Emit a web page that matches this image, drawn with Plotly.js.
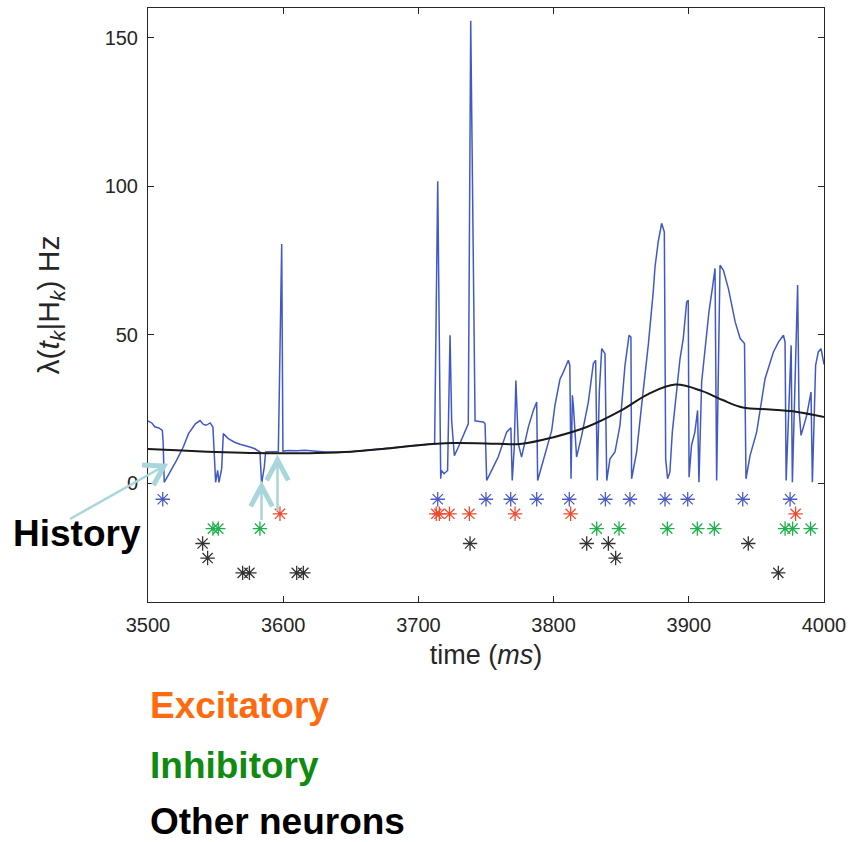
<!DOCTYPE html>
<html>
<head>
<meta charset="utf-8">
<script src="https://cdn.plot.ly/plotly-3.0.1.min.js"></script>
<style>html,body{margin:0;padding:0;background:#fff;}#chart{width:852px;height:842px;}</style>
</head>
<body>
<div id="chart"></div>
<script>
// ---- Conditional intensity lambda(t_k|H_k) (blue) ----
var intensityTime = [3500,3503,3505,3508,3510.6,3511.2,3512,3515,3521,3526,3530,3535,3538.5,3541,3543,3546,3548,3549,3550,3551.5,3552.5,3554.5,3555.7,3559.4,3564,3568,3571.7,3576,3579,3582.8,3584,3586,3587,3592,3596.4,3598.9,3599.8,3604,3610,3616,3621,3626,3631,
  3650,3675,3700,3712,
  3714.3,3716,3716.5,3717,3719,3721.6,3723.4,3724.6,3726.6,3729.5,3733,3736.9,3738.7,3741.9,3745,3748,3749.3,3750.5,3753,3759,3765.3,3768.4,3769.4,3770.9,3772.1,3773.9,3776.3,3781.3,3785,3787.5,3788.2,3792.4,3798.6,3801,3804.7,3807.2,3809.7,3810.9,3812,3812.9,3813.9,3814.6,3817,3820.8,3825.7,3829.4,3831.1,3832.3,3833.8,3835.6,3838,3839.3,3841.7,3845.4,3849.1,3852.8,3855.8,3857.2,3857.7,3861.4,3865.1,3870,3873.7,3875,3877.4,3879.9,3881.9,3882.9,3884.3,3886,3887.8,3893.5,3895.9,3898.4,3899.6,3900.2,3902,3904.5,3906.5,3907.5,3909.5,3911.9,3914.9,3917.4,3919.4,3920.6,3923.1,3925.6,3929.3,3934.3,3938,3941.2,3942.3,3945.3,3950.2,3956.4,3962.6,3966.3,3970,3971.2,3972,3975.7,3976.6,3980.5,3981.5,3983,3987.2,3990.4,3991.4,3993.8,3995.8,3997.8,3999.5,4000];
var intensityValue = [21,20.2,19,18.6,17.8,14,0.3,2.6,7.6,12.1,16.7,20,21.1,19.8,19.5,20.3,18.9,10,0.3,4.3,0.3,4.9,16.7,15,13.8,13.1,12.7,12.1,11.6,10.5,-0.2,5.4,10.5,10.6,10.7,80.5,10.8,11,10.9,11.1,10.9,10.8,10.5,
  10.6,11.6,12.8,13.3,
  101.7,17.8,1.5,4.3,3.2,4.3,49.8,21,9.3,12.1,16,20,155.7,21,20.8,20.6,20,0.9,3.2,8.8,17.2,18.7,0.9,12.1,34.6,13.3,8.8,18.9,24.5,27.3,0.9,7.7,17.8,26.2,35,37.4,40.3,41.4,39.7,1.5,29.6,26.2,8.8,16.1,27.3,40.3,41.4,0.9,30.7,45.3,43.6,0.9,8.2,10.5,19.5,39.7,49.8,49.2,1.5,10.5,26.2,46.4,64.4,72.8,81.3,87.5,84.6,8.2,1.5,3.7,17.2,41.9,48.7,61,61.6,2,12.7,17.2,24.5,0.3,34,45.3,57.7,65.5,72.3,0.9,73.4,71.7,65.5,54.3,48.7,47,1.5,9.3,17.2,35.2,44.2,47.5,49.8,47.5,0.9,46.4,0.3,66.7,25.1,16.1,22.8,30.7,0.3,39.7,44.2,45.3,41.4,40];

// ---- Baseline (smooth, black) ----
var baselineTime  = [3500,3525,3550,3575,3600,3625,3650,3675,3700,3725,3750,3775,3800,3825,3850,3870,3890,3910,3925,3940,3960,3980,4000];
var baselineValue = [11.5,11,10.5,10.2,10.1,10.2,10.6,11.6,12.8,13.5,13.4,13.2,15.5,19,24.5,30,33.2,31,28,25.5,24.8,24,22.3];

// ---- Spike rasters ----
var neuronSpikes      = [3510.9,3714.3,3750,3768.3,3787.5,3811.6,3838.3,3856.5,3882.4,3899.2,3939.9,3974.9];
var excitatorySpikes  = [3597.6,3713.2,3715.5,3723,3737.7,3771.5,3812.6,3979];
var inhibitorySpikes  = [3548,3552,3582.8,3831.9,3848.4,3884.1,3906.3,3918.9,3971.2,3976.8,3990.1];
var otherSpikesA      = [3540.4,3738.2,3824.5,3840.5,3944];
var otherSpikesB      = [3544.1,3845.9];
var otherSpikesC      = [3570,3575,3610,3614.9,3966.2];
var rowLevels = {neuron:-5.4, exc:-10.3, inh:-15.3, oA:-20.3, oB:-25.2, oC:-30.2};

var xTicks = [3500,3600,3700,3800,3900,4000];
var yTicks = [0,50,100,150];

function row(xs, level){ return xs.map(function(){ return level; }); }
function stars(xs, level, color){
  return {x:xs, y:row(xs, level), type:'scatter', mode:'markers', hoverinfo:'skip',
    marker:{symbol:'asterisk-open', size:12, line:{color:color, width:1.3}, color:color}};
}

var traces = [
  {x:intensityTime, y:intensityValue, type:'scatter', mode:'lines', line:{color:'#4159c4', width:1.5}, hoverinfo:'skip'},
  {x:baselineTime, y:baselineValue, type:'scatter', mode:'lines', line:{color:'#1a1a1a', width:2, shape:'spline'}, hoverinfo:'skip'},
  stars(neuronSpikes, rowLevels.neuron, '#4a5cc0'),
  stars(excitatorySpikes, rowLevels.exc, '#f04a2e'),
  stars(inhibitorySpikes, rowLevels.inh, '#1fb04c'),
  stars(otherSpikesA, rowLevels.oA, '#333333'),
  stars(otherSpikesB, rowLevels.oB, '#333333'),
  stars(otherSpikesC, rowLevels.oC, '#333333')
];

// ---- annotation arrows (pixel layout -> paper coords) ----
var L=148, R=824, T=8, B=602;
function px(x){ return (x-L)/(R-L); }
function py(y){ return (B-y)/(B-T); }
var arrowColor = '#a8d6da';
var shapes = [];
function arrow(tail, tip, armLen, halfDeg, shaftW, headW){
  shapes.push({type:'line', xref:'paper', yref:'paper', x0:px(tail[0]), y0:py(tail[1]), x1:px(tip[0]), y1:py(tip[1]), line:{color:arrowColor, width:shaftW}});
  var dx = tail[0]-tip[0], dy = tail[1]-tip[1], n = Math.sqrt(dx*dx+dy*dy);
  dx/=n; dy/=n;
  var a = halfDeg*Math.PI/180;
  function rot(s){ return [tip[0]+armLen*(dx*Math.cos(s*a)-dy*Math.sin(s*a)), tip[1]+armLen*(dx*Math.sin(s*a)+dy*Math.cos(s*a))]; }
  var p1 = rot(1), p2 = rot(-1);
  shapes.push({type:'path', xref:'paper', yref:'paper',
    path:'M'+px(p1[0])+','+py(p1[1])+' L'+px(tip[0])+','+py(tip[1])+' L'+px(p2[0])+','+py(p2[1]),
    line:{color:arrowColor, width:headW}});
}
arrow([70,519],[164,466],22,32,2.5,5);
arrow([261.5,520],[261.5,486],23,28,2.5,5);
arrow([277.5,511],[277.5,460],23,28,2.5,5);

var textFont = 'Liberation Sans, Arial, sans-serif';
var annotations = [
  {xref:'paper', yref:'paper', x:px(11), y:py(533), xanchor:'left', yanchor:'middle', showarrow:false, text:'<b>History</b>', font:{family:textFont, size:37, color:'#000'}},
  {xref:'paper', yref:'paper', x:px(148), y:py(705), xanchor:'left', yanchor:'middle', showarrow:false, text:'<b>Excitatory</b>', font:{family:textFont, size:37, color:'#ff6a0e'}},
  {xref:'paper', yref:'paper', x:px(148), y:py(765), xanchor:'left', yanchor:'middle', showarrow:false, text:'<b>Inhibitory</b>', font:{family:textFont, size:37, color:'#108a10'}},
  {xref:'paper', yref:'paper', x:px(148), y:py(822), xanchor:'left', yanchor:'middle', showarrow:false, text:'<b>Other neurons</b>', font:{family:textFont, size:37, color:'#000'}}
];

var axisCommon = {showline:true, linecolor:'#262626', linewidth:1, mirror:'ticks', ticks:'inside', ticklen:6, tickcolor:'#262626',
  showgrid:false, zeroline:false, tickfont:{family:textFont, size:20, color:'#262626'}, ticklabelstandoff:5};

var layout = {
  width:852, height:842,
  margin:{l:L, r:852-R, t:T, b:842-B},
  paper_bgcolor:'#fff', plot_bgcolor:'#fff',
  showlegend:false,
  xaxis:Object.assign({}, axisCommon, {range:[3500,4000], tickvals:xTicks, ticktext:xTicks.map(String),
    title:{text:'time (<i>ms</i>)', font:{family:textFont, size:27, color:'#262626'}, standoff:10}}),
  yaxis:Object.assign({}, axisCommon, {range:[-40,160], tickvals:yTicks, ticktext:yTicks.map(String),
    title:{text:'λ(<i>t</i><sub><i>k</i></sub>|H<sub><i>k</i></sub>) Hz', font:{family:textFont, size:30, color:'#262626'}, standoff:36}}),
  shapes:shapes,
  annotations:annotations
};

Plotly.newPlot('chart', traces, layout, {staticPlot:true, displayModeBar:false});
</script>
</body>
</html>
